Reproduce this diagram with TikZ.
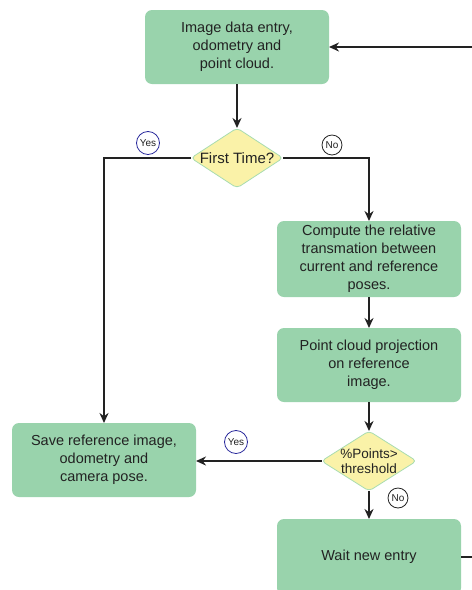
\documentclass[tikz,border=0pt]{standalone}
\usepackage{fontspec}
\setmainfont{Liberation Sans}
\usetikzlibrary{shapes.geometric,arrows.meta}
\definecolor{c99d3ae}{RGB}{153,211,172}
\definecolor{cfaf0a5}{RGB}{250,242,168}
\definecolor{ca8dcb0}{RGB}{168,220,176}
\definecolor{c2a2a9c}{RGB}{42,42,156}
\definecolor{c222222}{RGB}{34,34,34}

\begin{document}
\begin{tikzpicture}[y=1pt,x=1pt,yscale=-1, inner sep=0pt, outer sep=0pt,
  stepbox/.style={fill=c99d3ae, rounded corners=7pt, minimum width=184pt,
    align=center, text=c222222, font=\fontsize{14.5}{18}\selectfont},
  test/.style={shape=diamond, fill=cfaf0a5, draw=ca8dcb0, line width=0.8pt,
    rounded corners=4pt, inner xsep=-12pt, inner ysep=-4pt, aspect=1.5,
    minimum width=92pt, minimum height=60pt, align=center, text=c222222},
  flow/.style={draw=c222222, line width=1.6pt, -{Stealth[length=10pt,width=9pt]}},
  answer/.style={circle, draw, line width=0.8pt, inner sep=2pt,
    font=\fontsize{10}{10}\selectfont, text=c222222}]
  \useasboundingbox (0,0) rectangle (472,590);

  % steps
  \node[stepbox, minimum height=74pt] (boxEntry) at (237,47)
    {Image data entry,\\odometry and\\point cloud.};
  \node[stepbox, minimum height=76pt] (boxRelative) at (369,259)
    {Compute the relative\\transmation between\\current and reference\\poses.};
  \node[stepbox, minimum height=74pt] (boxProjection) at (369,365)
    {Point cloud projection\\on reference\\image.};
  \node[stepbox, minimum height=74pt] (boxSave) at (104,460)
    {Save reference image,\\odometry and\\camera pose.};
  \node[stepbox, minimum height=76pt] (boxWait) at (369,557) {Wait new entry};

  % tests
  \node[test, font=\fontsize{15}{18}\selectfont] (diamFirst) at (237,158)
    {First Time?};
  \node[test, minimum width=95pt, font=\fontsize{13.5}{15}\selectfont]
    (diamPoints) at (369,461) {\%Points>\\threshold};

  % connectors
  \coordinate (loopRight) at (495,300);
  \path[flow] (boxEntry) -- (diamFirst);
  \path[flow] (diamFirst.west) -| (boxSave.north);
  \path[flow] (diamFirst.east) -| (boxRelative.north);
  \path[flow] (boxRelative) -- (boxProjection);
  \path[flow] (boxProjection) -- (diamPoints);
  \path[flow] (diamPoints.west) -- (diamPoints.west -| boxSave.east);
  \path[flow] (diamPoints) -- (boxWait);
  \path[flow] (boxWait.east) -| (loopRight) |- (boxEntry.east);

  % answers
  \node[answer, draw=c2a2a9c] (textYes1) at (148,143) {Yes};
  \node[answer, draw=c222222] (textNo1) at (332,145) {No};
  \node[answer, draw=c2a2a9c] (textYes2) at (236,442) {Yes};
  \node[answer, draw=c222222] (textNo2) at (398,498) {No};

\end{tikzpicture}
\end{document}
